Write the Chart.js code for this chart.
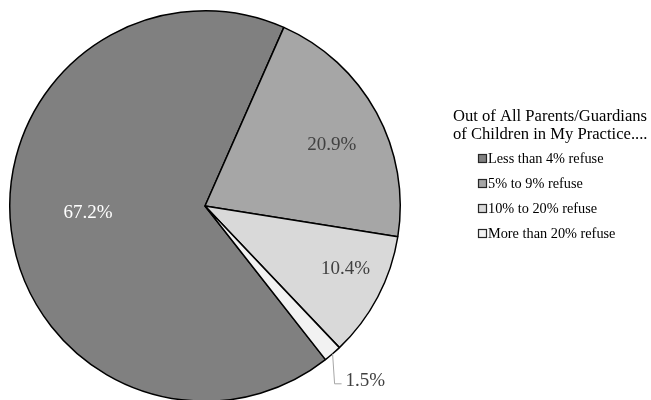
<!DOCTYPE html>
<html>
<head>
<meta charset="utf-8">
<script src="https://cdn.jsdelivr.net/npm/chart.js@4"></script>
<style>
html,body{margin:0;padding:0;background:#fff;overflow:hidden;}
#wrap{width:651px;height:404px;}
</style>
</head>
<body>
<div id="wrap"><canvas id="c" width="651" height="404"></canvas></div>
<script>
const categories = ["Less than 4% refuse", "5% to 9% refuse", "10% to 20% refuse", "More than 20% refuse"];
const values = [67.2, 20.9, 10.4, 1.5];
const valueLabels = ["67.2%", "20.9%", "10.4%", "1.5%"];
const legendTitle = ["Out of All Parents/Guardians", "of Children in My Practice...."];
const sliceColors = ["#808080", "#a6a6a6", "#d9d9d9", "#f2f2f2"];
const labelColors = ["#ffffff", "#404040", "#404040", "#404040"];
// label placement: radius fraction & angular tweak (deg)
const labelPlace = [{r:0.60, da:3.5}, {r:0.72, da:3}, {r:0.79, da:-3.5}, null];

const FONT = '"Liberation Serif", "Times New Roman", serif';

const labelPlugin = {
  id: 'labels',
  afterDatasetsDraw(chart) {
    const ctx = chart.ctx;
    const meta = chart.getDatasetMeta(0);
    ctx.save();
    ctx.font = '19px ' + FONT;
    ctx.textBaseline = 'middle';
    meta.data.forEach((arc, i) => {
      const p = arc.getProps(['x','y','startAngle','endAngle','outerRadius'], true);
      const mid = (p.startAngle + p.endAngle) / 2;
      if (labelPlace[i]) {
        const a = mid + labelPlace[i].da * Math.PI / 180;
        const r = p.outerRadius * labelPlace[i].r;
        ctx.fillStyle = labelColors[i];
        ctx.textAlign = 'center';
        ctx.fillText(valueLabels[i], p.x + Math.cos(a) * r, p.y + Math.sin(a) * r);
      } else {
        const sx = p.x + Math.cos(mid) * p.outerRadius;
        const sy = p.y + Math.sin(mid) * p.outerRadius;
        ctx.strokeStyle = '#a6a6a6';
        ctx.lineWidth = 1;
        ctx.beginPath();
        ctx.moveTo(sx, sy);
        ctx.lineTo(sx + 2, sy + 30);
        ctx.lineTo(sx + 9, sy + 30);
        ctx.stroke();
        ctx.fillStyle = labelColors[i];
        ctx.textAlign = 'left';
        ctx.fillText(valueLabels[i], sx + 13, sy + 27);
      }
    });
    ctx.restore();
  },
  afterDraw(chart) {
    const ctx = chart.ctx;
    ctx.save();
    ctx.fillStyle = '#000';
    ctx.textBaseline = 'middle';
    ctx.textAlign = 'left';
    ctx.font = '16.6px ' + FONT;
    legendTitle.forEach((t, i) => ctx.fillText(t, 453, 117 + i * 18));
    ctx.font = '14.3px ' + FONT;
    const ds = chart.data.datasets[0];
    chart.data.labels.forEach((lab, i) => {
      const y = 159 + i * 25;
      ctx.fillStyle = ds.backgroundColor[i];
      ctx.fillRect(478.5, y - 4.5, 8, 8);
      ctx.strokeStyle = '#262626';
      ctx.lineWidth = 1.2;
      ctx.strokeRect(478.5, y - 4.5, 8, 8);
      ctx.fillStyle = '#000';
      ctx.fillText(lab, 488, y);
    });
    ctx.restore();
  }
};

new Chart(document.getElementById('c'), {
  type: 'pie',
  data: {
    labels: categories,
    datasets: [{
      data: values,
      backgroundColor: sliceColors,
      borderColor: '#000',
      borderWidth: 1.5
    }]
  },
  options: {
    responsive: false,
    animation: false,
    rotation: 141.9,
    layout: { padding: { left: 9, top: 10, right: 250, bottom: 2 } },
    plugins: { legend: { display: false }, tooltip: { enabled: false } }
  },
  plugins: [labelPlugin]
});
</script>
</body>
</html>
